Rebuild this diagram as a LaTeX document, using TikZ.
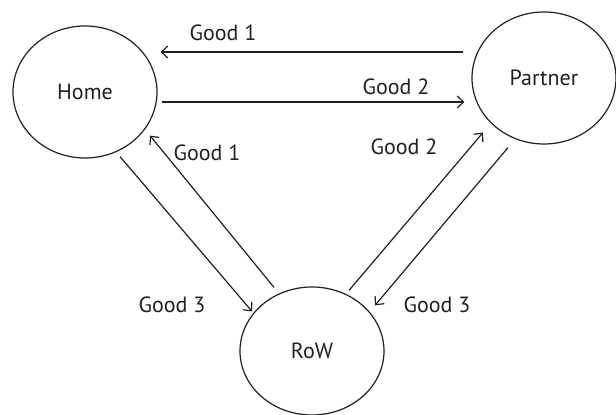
\documentclass[tikz,border=0pt]{standalone}
\usepackage{fontspec}
\setmainfont{PT Sans}
\usetikzlibrary{shapes.geometric,arrows.meta}
\definecolor{ink}{RGB}{35,31,32}
\tikzset{
    country/.style={ellipse, draw=ink, line width=0.6pt, inner sep=0pt,
        minimum width=72pt, minimum height=66pt},
    flow/.style={draw=ink, line width=0.6pt,
        -{Straight Barb[length=3.2pt,width=6pt]}},
    good/.style={inner sep=1pt}
}

\begin{document}
\begin{tikzpicture}[x=0.5pt,y=-0.5pt,
    font=\fontsize{11}{13}\selectfont, text=ink]

\useasboundingbox (0,0) rectangle (616,415);

% countries
\node[country] (home)    at (85,92)  {Home};
\node[country] (partner) at (544,78) {Partner};
\node[country, minimum height=64pt] (row) at (312,351) {RoW};

% trade between home and partner
\draw[flow] ([shift={(-8,-26)}]partner.west) -- ([shift={(3,-40)}]home.east);
\draw[flow] ([shift={(4,10)}]home.east) -- ([shift={(-7,24)}]partner.west);
\node[good] (g1top) at (223,33) {Good 1};
\node[good] (g2top) at (396,87) {Good 2};

% home and rest of world
\draw[flow] ([shift={(35,-2)}]home.south) -- ([shift={(-60,25)}]row.north);
\draw[flow] ([shift={(-38,1)}]row.north) -- ([shift={(65,-23)}]home.south);
\node[good] (g1left) at (207,153) {Good 1};
\node[good] (g3left) at (172,305) {Good 3};

% partner and rest of world
\draw[flow] ([shift={(37,4)}]row.north) -- ([shift={(-61,-12)}]partner.south);
\draw[flow] ([shift={(-36,3)}]partner.south) -- ([shift={(63,19)}]row.north);
\node[good] (g2right) at (404,147) {Good 2};
\node[good] (g3right) at (437,305) {Good 3};

\end{tikzpicture}
\end{document}
